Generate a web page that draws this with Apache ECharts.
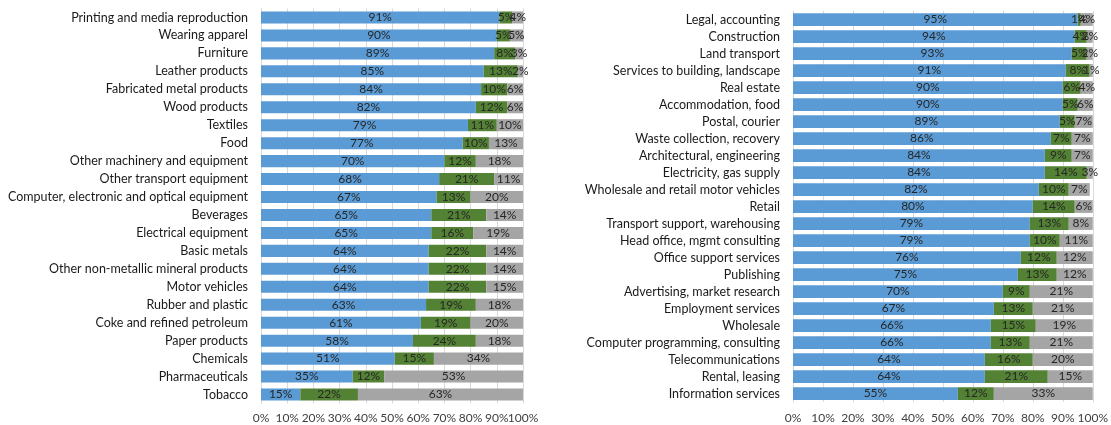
<!DOCTYPE html>
<html>
<head>
<meta charset="utf-8">
<script src="https://cdn.jsdelivr.net/npm/echarts@6/dist/echarts.min.js"></script>
<style>
  html, body { margin: 0; padding: 0; background: #fff; }
  #chart { width: 1111px; height: 425px; }
</style>
</head>
<body>
<div id="chart"></div>
<script>
// left panel: manufacturing
const leftCats = ['Printing and media reproduction', 'Wearing apparel', 'Furniture', 'Leather products',
  'Fabricated metal products', 'Wood products', 'Textiles', 'Food', 'Other machinery and equipment',
  'Other transport equipment', 'Computer, electronic and optical equipment', 'Beverages',
  'Electrical equipment', 'Basic metals', 'Other non-metallic mineral products', 'Motor vehicles',
  'Rubber and plastic', 'Coke and refined petroleum', 'Paper products', 'Chemicals',
  'Pharmaceuticals', 'Tobacco']
const leftBlue = [91, 90, 89, 85, 84, 82, 79, 77, 70, 68, 67, 65, 65, 64, 64, 64, 63, 61, 58, 51, 35, 15]
const leftGreen = [5, 5, 8, 13, 10, 12, 11, 10, 12, 21, 13, 21, 16, 22, 22, 22, 19, 19, 24, 15, 12, 22]
const leftGrey = [4, 5, 3, 2, 6, 6, 10, 13, 18, 11, 20, 14, 19, 14, 14, 15, 18, 20, 18, 34, 53, 63]

// right panel: services
const rightCats = ['Legal, accounting', 'Construction', 'Land transport', 'Services to building, landscape',
  'Real estate', 'Accommodation, food', 'Postal, courier', 'Waste collection, recovery',
  'Architectural, engineering', 'Electricity, gas supply', 'Wholesale and retail motor vehicles',
  'Retail', 'Transport support, warehousing', 'Head office, mgmt consulting', 'Office support services',
  'Publishing', 'Advertising, market research', 'Employment services', 'Wholesale',
  'Computer programming, consulting', 'Telecommunications', 'Rental, leasing', 'Information services']
const rightBlue = [95, 94, 93, 91, 90, 90, 89, 86, 84, 84, 82, 80, 79, 79, 76, 75, 70, 67, 66, 66, 64, 64, 55]
const rightGreen = [1, 4, 5, 8, 6, 5, 5, 7, 9, 14, 10, 14, 13, 10, 12, 13, 9, 13, 15, 13, 16, 21, 12]
const rightGrey = [4, 2, 2, 1, 4, 6, 7, 7, 7, 3, 7, 6, 8, 11, 12, 12, 21, 21, 19, 21, 20, 15, 33]

// percent tick labels
const tickValues = [0, 10, 20, 30, 40, 50, 60, 70, 80, 90, 100]

const colors = ['#5B9BD5', '#548235', '#A5A5A5']
const font = 'Lato, "Open Sans", sans-serif'

const myChart = echarts.init(document.getElementById('chart'))

// labels: 'all' or a subset of tickValues, so the crowded 90%/100% pair both show on the left
const xAxisFor = (gridIndex, margin, labels, grid) => ({
  type: 'value',
  gridIndex: gridIndex,
  position: 'bottom',
  min: 0,
  max: 100,
  interval: 10,
  axisLine: { show: false },
  axisTick: { show: false },
  axisLabel: {
    fontFamily: font,
    fontSize: 12,
    color: '#404040',
    margin: margin,
    customValues: labels,
    formatter: '{value}%'
  },
  splitLine: {
    show: grid,
    lineStyle: { color: '#D9D9D9', width: 1 }
  }
})

const yAxisFor = (gridIndex, cats) => ({
  type: 'category',
  gridIndex: gridIndex,
  data: cats,
  inverse: true,
  axisLine: { show: true, lineStyle: { color: '#D9D9D9' } },
  axisTick: { show: false },
  axisLabel: {
    fontFamily: font,
    fontSize: 12.5,
    color: '#1a1a1a',
    margin: 13
  }
})

const seriesFor = (idx, data, color, gap) => ({
  type: 'bar',
  stack: 'total' + idx,
  xAxisIndex: idx,
  yAxisIndex: idx,
  data: data,
  barCategoryGap: gap,
  itemStyle: { color: color },
  label: {
    show: true,
    position: 'inside',
    formatter: '{c}%',
    fontFamily: font,
    fontSize: 12,
    color: '#262626'
  }
})

const option = {
  animation: false,
  grid: [
    { left: 261, width: 262, top: 8.5, bottom: 21.5 },
    { left: 793, width: 301, top: 11, bottom: 23 }
  ],
  xAxis: [
    xAxisFor(0, 9, tickValues.slice(0, 10), true),
    xAxisFor(1, 10, tickValues, true),
    xAxisFor(0, 9, tickValues.slice(10), false)
  ],
  yAxis: [yAxisFor(0, leftCats), yAxisFor(1, rightCats)],
  series: [
    seriesFor(0, leftBlue, colors[0], '33%'),
    seriesFor(0, leftGreen, colors[1], '33%'),
    seriesFor(0, leftGrey, colors[2], '33%'),
    seriesFor(1, rightBlue, colors[0], '25%'),
    seriesFor(1, rightGreen, colors[1], '25%'),
    seriesFor(1, rightGrey, colors[2], '25%')
  ]
}

myChart.setOption(option)
</script>
</body>
</html>
